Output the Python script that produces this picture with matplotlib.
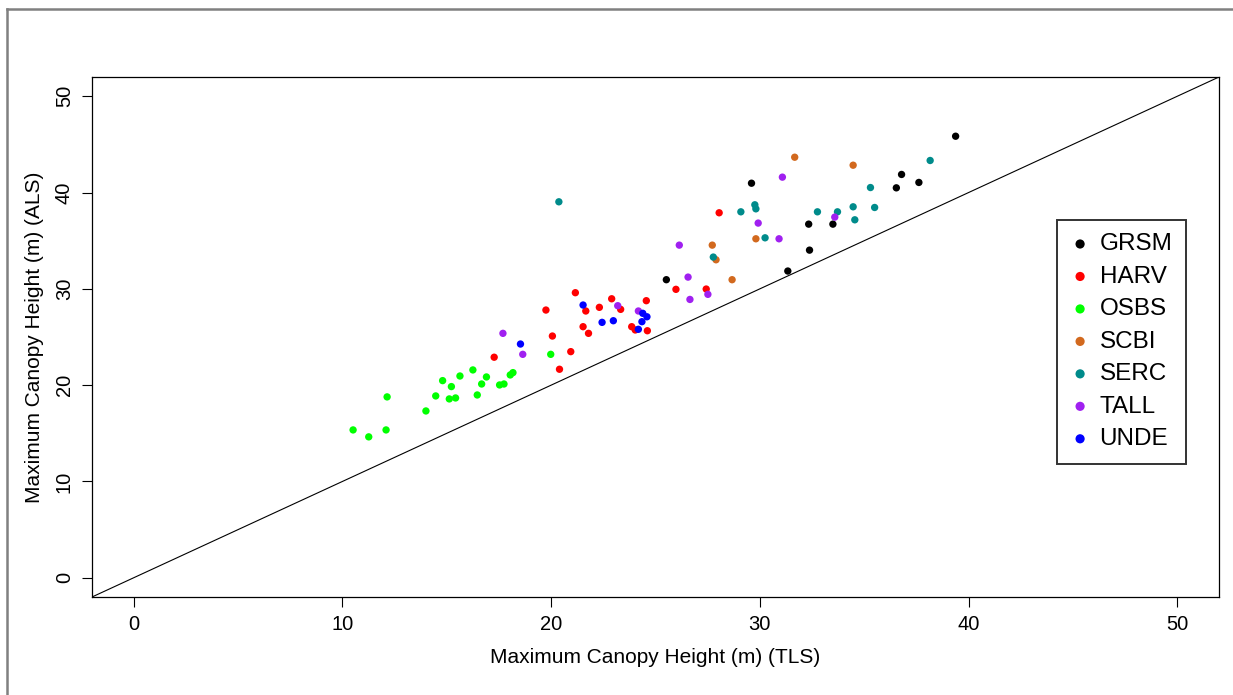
import numpy as np
import matplotlib.pyplot as plt
from matplotlib.lines import Line2D

plt.rcParams['font.family'] = ['Liberation Sans', 'DejaVu Sans']

sites = ['GRSM', 'HARV', 'OSBS', 'SCBI', 'SERC', 'TALL', 'UNDE']
colors = ['black', 'red', '#00FF00', '#D2691E', '#008B8B', '#A020F0', 'blue']

# TLS (x) and ALS (y) maximum canopy heights per site
tls = {
    'GRSM': [29.6, 32.34, 33.5, 32.38, 31.34, 25.52, 39.38, 36.79, 36.54, 37.62],
    'HARV': [21.16, 19.75, 21.66, 22.31, 22.9, 23.33, 21.53, 21.79, 20.06, 20.94,
             20.4, 23.86, 24.03, 24.56, 24.61, 25.98, 17.27, 28.05, 27.43],
    'OSBS': [10.51, 11.26, 12.09, 12.14, 14.0, 14.47, 14.8, 15.22, 15.12, 15.42,
             15.63, 16.25, 16.46, 16.67, 16.9, 17.53, 17.74, 18.04, 18.17, 19.98],
    'SCBI': [31.67, 34.47, 27.72, 27.9, 29.81, 28.67],
    'SERC': [20.37, 29.09, 29.76, 29.81, 30.25, 27.77, 32.76, 33.72, 34.47, 34.55,
             35.3, 35.5, 38.16],
    'TALL': [23.19, 24.18, 17.69, 18.64, 26.14, 26.56, 31.08, 29.92, 30.92, 33.59,
             27.51, 26.65],
    'UNDE': [21.53, 22.44, 22.98, 18.53, 24.39, 24.59, 24.35, 24.18],
}
als = {
    'GRSM': [40.97, 36.72, 36.72, 34.02, 31.85, 30.95, 45.85, 41.88, 40.49, 41.05],
    'HARV': [29.6, 27.8, 27.7, 28.08, 28.97, 27.87, 26.07, 25.38, 25.1, 23.48,
             21.65, 26.07, 25.73, 28.77, 25.65, 29.95, 22.9, 37.9, 29.98],
    'OSBS': [15.35, 14.63, 15.35, 18.78, 17.32, 18.88, 20.47, 19.85, 18.57, 18.67,
             20.95, 21.58, 18.98, 20.12, 20.85, 20.02, 20.12, 21.06, 21.3, 23.2],
    'SCBI': [43.67, 42.84, 34.54, 33.02, 35.2, 30.95],
    'SERC': [39.04, 38.0, 38.73, 38.31, 35.3, 33.3, 38.0, 38.0, 38.52, 37.17,
             40.52, 38.45, 43.33],
    'TALL': [28.25, 27.7, 25.38, 23.2, 34.54, 31.22, 41.6, 36.83, 35.2, 37.45,
             29.43, 28.9],
    'UNDE': [28.32, 26.52, 26.69, 24.27, 27.46, 27.1, 26.59, 25.8],
}

ticks = [0, 10, 20, 30, 40, 50]

fig = plt.figure(figsize=(12.33, 6.95), dpi=100)
ax = fig.add_axes([92/1233, 1 - 597/695, (1219 - 92)/1233, (597 - 77)/695])

for site, col in zip(sites, colors):
    ax.scatter(tls[site], als[site], s=28, color=col, edgecolors='none',
               label=site, zorder=3)

ax.plot([-2, 52], [-2, 52], color='black', lw=0.8, zorder=2)

ax.set_xlim(-2, 52)
ax.set_ylim(-2, 52)
ax.set_xticks(ticks)
ax.set_yticks(ticks)
ax.tick_params(direction='out', length=7, width=0.8, labelsize=14.5, pad=6)
for lab in ax.get_yticklabels():
    lab.set_rotation(90)
    lab.set_va('center')
for sp in ax.spines.values():
    sp.set_linewidth(0.9)

ax.set_xlabel('Maximum Canopy Height (m) (TLS)', fontsize=15, labelpad=10)
ax.set_ylabel('Maximum Canopy Height (m) (ALS)', fontsize=15, labelpad=8)

leg = ax.legend(loc='upper left', bbox_to_anchor=(1057/1233, 1 - 220/695),
                bbox_transform=fig.transFigure, fontsize=17.5, frameon=True,
                fancybox=False, borderpad=0.55, labelspacing=0.43,
                handletextpad=0.4, handlelength=0.8, markerscale=1.25,
                borderaxespad=0)
leg.get_frame().set_edgecolor('black')
leg.get_frame().set_linewidth(1.4)

# outer frame of the exported figure
fig.add_artist(Line2D([7/1233, 1], [1 - 9/695, 1 - 9/695], color='#808080', lw=1.8))
fig.add_artist(Line2D([7/1233, 7/1233], [0, 1 - 9/695], color='#808080', lw=1.8))

fig.savefig('out.png', dpi=100)
